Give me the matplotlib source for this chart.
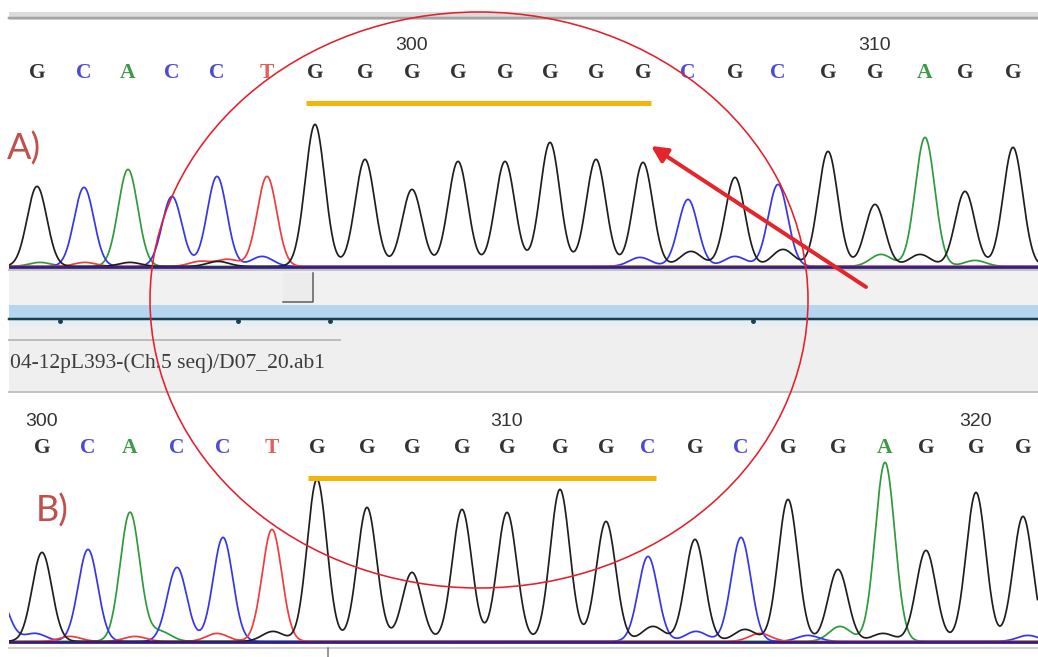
import numpy as np
import matplotlib.pyplot as plt
from matplotlib.patches import Rectangle, Ellipse

# Figure size in pixels (dpi 100)
W, H = 1038, 657

# Panel A: base calls, peak scan positions and peak heights above baseline
a_bases = list("GCACCTGGGGGGGGCGCGGAGG")
a_peak_pos = [37, 84, 128, 172, 217, 267, 315, 365, 412, 458, 505, 550, 596, 643,
              688, 735, 778, 828, 875, 925, 965, 1013]
a_peak_height = [80, 79, 97, 70, 90, 90, 142, 107, 77, 105, 105, 124, 107, 104,
                 67, 89, 82, 115, 62, 129, 75, 119]
a_first_pos = 292
# small background peaks
a_minor_pos = [40, 85, 130, 200, 218, 228, 262, 640, 691, 735, 783, 881, 920, 975]
a_minor_height = [4, 4, 4, 5, 5, 7, 10, 9, 15, 10, 17, 12, 12, 6]
a_minor_base = list("ATGTGTCCGCGAGA")

# Panel B
b_bases = list("GCACCTGGGGGGGCGCGGAGGG")
b_peak_pos = [42, 88, 130, 177, 223, 272, 317, 367, 412, 462, 507, 560, 606, 648,
              695, 741, 788, 838, 885, 926, 976, 1023]
b_peak_height = [89, 92, 129, 74, 104, 112, 162, 134, 69, 132, 129, 152, 120, 85,
                 102, 104, 142, 72, 179, 85, 149, 125]
b_first_pos = 300
b_minor_pos = [-3, 35, 70, 135, 160, 217, 273, 653, 696, 745, 760, 808, 840, 883, 926, 1028]
b_minor_height = [50, 8, 5, 5, 10, 8, 10, 15, 10, 12, 8, 6, 15, 8, 6, 6]
b_minor_base = list("CCTTATGGCGTCAGGC")

# underlined G run (base indices)
run_start, run_end = 6, 13

file_label = "04-12pL393-(Ch.5 seq)/D07_20.ab1"

trace_colors = {"G": "#1e1e1e", "C": "#3535f0", "A": "#2f9a3a", "T": "#f03c3c"}
letter_colors = {"G": "#333333", "C": "#4b4bd6", "A": "#3d9a46", "T": "#e0605a"}


def px(v):
    return v * 0.72


def draw_panel(ax, bases, pos, heights, mpos, mheights, mbases, first_pos):
    x = np.arange(0, W, 0.5)
    sigma = 9.8
    for b in ["A", "C", "T", "G"]:
        y = np.zeros_like(x)
        for p, h, base in zip(pos, heights, bases):
            if base == b:
                y += h * np.exp(-(x - p) ** 2 / (2 * sigma ** 2))
        for p, h, base in zip(mpos, mheights, mbases):
            if base == b:
                y += h * np.exp(-(x - p) ** 2 / (2 * (sigma * 1.1) ** 2))
        ax.plot(x, y + 0.6, color=trace_colors[b], lw=1.25, zorder=3)
    ax.axhline(0, color="#33207e", lw=2.0, zorder=4)

    for i, (p, base) in enumerate(zip(pos, bases)):
        ax.text(p, 194, base, ha="center", va="center", fontsize=15.5,
                family="Liberation Serif", fontweight="bold",
                color=letter_colors[base], zorder=5)
        n = first_pos + i
        if n % 10 == 0:
            ax.text(p, 221, str(n), ha="center", va="center", fontsize=14,
                    family="Liberation Sans", color="#333333", zorder=5)

    ax.hlines(164, pos[run_start] - 9, pos[run_end] + 8, color="#f3b50c",
              lw=px(5), zorder=5)
    ax.set_xlim(9, W)
    ax.set_axis_off()


fig = plt.figure(figsize=(W / 100, H / 100), dpi=100)

# background "window" chrome
bg = fig.add_axes([0, 0, 1, 1], zorder=0)
bg.set_xlim(0, W)
bg.set_ylim(H, 0)
bg.set_axis_off()
bg.add_patch(Rectangle((9, 12), W - 9, 8, color="#dcdcdc", lw=0))
bg.plot([9, W], [18, 18], color="#a4a4a4", lw=px(2.5))
bg.plot([9, W], [270, 270], color="#c4c4c4", lw=px(2))
bg.add_patch(Rectangle((9, 271), W - 9, 34, color="#f1f1f1", lw=0))
bg.add_patch(Rectangle((283, 273), 30, 29, facecolor="#ececec", edgecolor="none"))
bg.plot([283, 313, 313], [302, 302, 273], color="#5a5a5a", lw=px(1.5))
bg.add_patch(Rectangle((9, 305), W - 9, 13, color="#b5d6ee", lw=0))
bg.plot([9, W], [318.5, 318.5], color="#1c3e4c", lw=px(2.5))
bg.plot([60, 238, 330, 753], [320.5] * 4, ls="none", marker="o", ms=2.5, color="#1c3e4c")
bg.add_patch(Rectangle((9, 320), W - 9, 7, color="#e4eef3", lw=0))
bg.add_patch(Rectangle((9, 327), W - 9, 64, color="#efefef", lw=0))
bg.plot([9, 340], [340, 340], color="#bdbdbd", lw=px(2))
bg.plot([9, W], [391.5, 391.5], color="#c2c2c2", lw=px(2))
bg.text(10, 363, file_label, ha="left", va="center", fontsize=15.5,
        family="Liberation Serif", color="#3c3c3c")
bg.plot([9, W], [648, 648], color="#cfcfcf", lw=px(2))
bg.plot([328, 328], [648, 657], color="#777777", lw=px(1.5))

# chromatogram panels
ax_a = fig.add_axes([9 / W, 1 - 270 / H, (W - 9) / W, 250 / H], zorder=1)
ax_a.set_ylim(-3, 247)
draw_panel(ax_a, a_bases, a_peak_pos, a_peak_height,
           a_minor_pos, a_minor_height, a_minor_base, a_first_pos)

ax_b = fig.add_axes([9 / W, 1 - 645 / H, (W - 9) / W, 253 / H], zorder=1)
ax_b.set_ylim(-3, 250)
draw_panel(ax_b, b_bases, b_peak_pos, b_peak_height,
           b_minor_pos, b_minor_height, b_minor_base, b_first_pos)

# annotation overlay
ov = fig.add_axes([0, 0, 1, 1], zorder=5)
ov.set_xlim(0, W)
ov.set_ylim(H, 0)
ov.set_axis_off()
ov.patch.set_alpha(0)
ov.add_patch(Ellipse((479, 300), 658, 576, fill=False, edgecolor="#e3202c", lw=px(1.6)))
ov.annotate("", xy=(651, 146), xytext=(866, 287),
            arrowprops=dict(arrowstyle="-|>", color="#e3262b", lw=px(4),
                            mutation_scale=24, shrinkA=0, shrinkB=0))
ov.text(7, 149, "A)", ha="left", va="center", fontsize=26, family="Lato", color="#c0504d")
ov.text(36, 511, "B)", ha="left", va="center", fontsize=26, family="Lato", color="#c0504d")

fig.savefig("out.png", dpi=100, facecolor="white")
